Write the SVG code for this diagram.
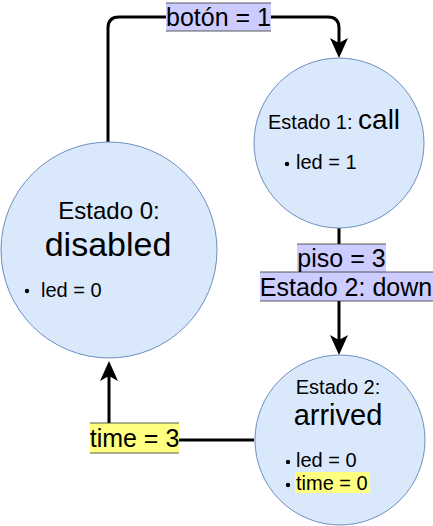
<svg xmlns="http://www.w3.org/2000/svg" width="433" height="526" viewBox="0 0 433 526">
  <style>
    text { font-family: "Liberation Sans", Arial, sans-serif; fill: #000; }
    .state { fill: #dae8fc; stroke: #6c8ebf; stroke-width: 1; }
    .edge { fill: none; stroke: #000; stroke-width: 3; }
    .lblbg { fill: #ccccff; }
    .ylw { fill: #ffff80; }
    .rule { stroke: #333; stroke-width: 0.8; }
    .lbl { font-size: 25px; }
    .item { font-size: 20px; }
    .dot { fill: #000; }
  </style>
  <defs>
    <marker id="arrow" viewBox="0 0 20 18" refX="5" refY="9" markerWidth="20" markerHeight="18" markerUnits="userSpaceOnUse" orient="auto">
      <path d="M20,9 L0,0 L5,9 L0,18 Z" fill="#000"/>
    </marker>
  </defs>

  <g id="connectors">
    <path class="edge" d="M108,142 V28 Q108,17 119,17 H328 Q339,17 339,28 V43" marker-end="url(#arrow)"/>
    <path class="edge" d="M339,228 V340" marker-end="url(#arrow)"/>
    <path class="edge" d="M254,440 H109 V376" marker-end="url(#arrow)"/>
    <g id="label-boton">
      <rect class="lblbg" x="166" y="3" width="105" height="28"/>
      <line class="rule" x1="166" y1="3" x2="271" y2="3"/>
      <line class="rule" x1="166" y1="31" x2="271" y2="31"/>
      <text class="lbl" x="218.5" y="26" text-anchor="middle">botón = 1</text>
    </g>
    <g id="label-piso">
      <rect class="lblbg" x="297" y="244" width="89" height="28"/>
      <rect class="lblbg" x="260" y="272" width="173" height="29"/>
      <line class="rule" x1="297" y1="244" x2="386" y2="244"/>
      <line class="rule" x1="260" y1="272" x2="433" y2="272"/>
      <line class="rule" x1="260" y1="301" x2="433" y2="301"/>
      <text class="lbl" x="341.5" y="267" text-anchor="middle">piso = 3</text>
      <text class="lbl" x="346" y="296" text-anchor="middle">Estado 2: down</text>
    </g>
    <g id="label-time">
      <rect class="ylw" x="90" y="423" width="89" height="30"/>
      <line class="rule" x1="90" y1="423" x2="179" y2="423"/>
      <line class="rule" x1="90" y1="453" x2="179" y2="453"/>
      <text class="lbl" x="134.5" y="447" text-anchor="middle">time = 3</text>
    </g>
  </g>

  <g id="state0">
    <circle class="state" cx="109" cy="250" r="108"/>
    <text x="109" y="219" font-size="24" text-anchor="middle">Estado 0:</text>
    <text x="108" y="256" font-size="34" text-anchor="middle">disabled</text>
    <circle class="dot" cx="27" cy="291" r="2.2"/>
    <text class="item" x="41" y="297">led = 0</text>
  </g>

  <g id="state1">
    <circle class="state" cx="339" cy="143" r="85"/>
    <text x="268" y="129"><tspan font-size="20">Estado 1: </tspan><tspan font-size="28">call</tspan></text>
    <circle class="dot" cx="287" cy="164" r="2.2"/>
    <text class="item" x="296" y="169">led = 1</text>
  </g>

  <g id="state2">
    <circle class="state" cx="340" cy="440" r="85"/>
    <text x="338" y="394" font-size="20" text-anchor="middle">Estado 2:</text>
    <text x="338" y="425" font-size="29" text-anchor="middle">arrived</text>
    <circle class="dot" cx="288" cy="462" r="2.2"/>
    <text class="item" x="296" y="467">led = 0</text>
    <circle class="dot" cx="288" cy="485" r="2.2"/>
    <rect class="ylw" x="295" y="472" width="75" height="21"/>
    <text class="item" x="296" y="490">time = 0</text>
  </g>
</svg>
